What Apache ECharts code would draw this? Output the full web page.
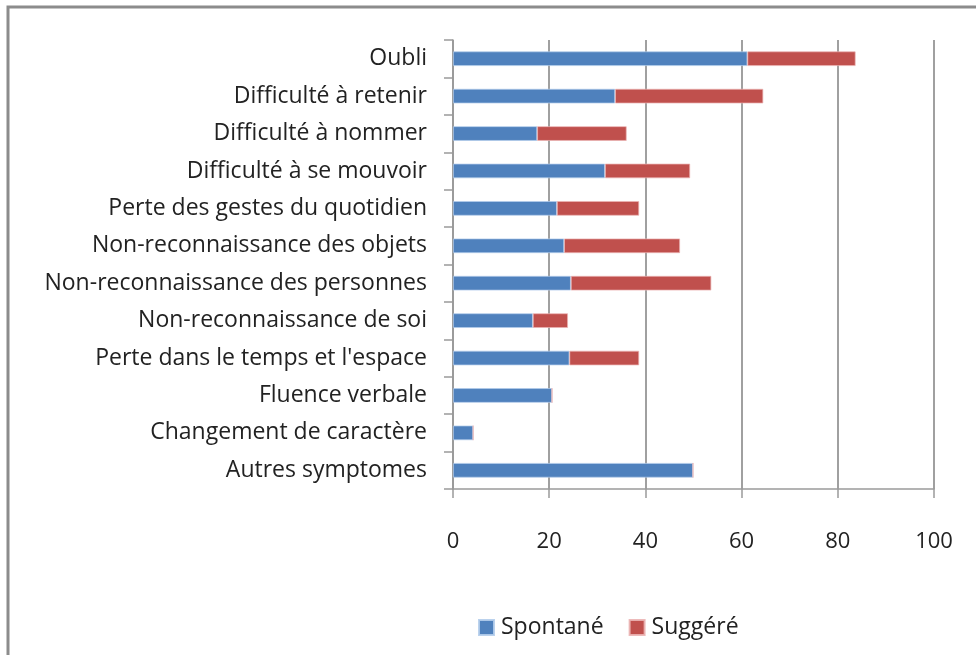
<!DOCTYPE html>
<html>
<head>
<meta charset="utf-8">
<script src="https://cdn.jsdelivr.net/npm/echarts@6/dist/echarts.min.js"></script>
<style>
  html, body { margin: 0; padding: 0; background: #fff; }
  #mychart1 { width: 976px; height: 655px; }
</style>
</head>
<body>
<div id="mychart1"></div>
<script>
// catégories (de haut en bas)
const categories = [
  "Oubli",
  "Difficulté à retenir",
  "Difficulté à nommer",
  "Difficulté à se mouvoir",
  "Perte des gestes du quotidien",
  "Non-reconnaissance des objets",
  "Non-reconnaissance des personnes",
  "Non-reconnaissance de soi",
  "Perte dans le temps et l'espace",
  "Fluence verbale",
  "Changement de caractère",
  "Autres symptomes"
];
const spontane = [61.2, 33.7, 17.5, 31.6, 21.6, 23.1, 24.5, 16.6, 24.2, 20.6, 4.2, 49.9];
const suggere = [22.5, 30.8, 18.6, 17.7, 17.1, 24.1, 29.2, 7.3, 14.5, 0, 0, 0];
const xTicks = [0, 20, 40, 60, 80, 100];

const font = "'Open Sans', sans-serif";
const myChart = echarts.init(document.getElementById("mychart1"));
const option = {
  animation: false,
  textStyle: { fontFamily: font },
  // cadre gris en haut / à gauche
  graphic: [{
    type: "rect",
    shape: { x: 8, y: 7, width: 1200, height: 1200 },
    style: { fill: "none", stroke: "#8c8c8c", lineWidth: 3 },
    silent: true
  }],
  grid: { left: 453, top: 40, right: 42, bottom: 166 },
  legend: {
    data: ["Spontané", "Suggéré"],
    left: 473,
    top: 611,
    itemWidth: 15,
    itemHeight: 15,
    itemGap: 25,
    icon: "rect",
    textStyle: { fontSize: 23, color: "#222", fontFamily: font, padding: [0, 0, 0, 2] }
  },
  xAxis: {
    type: "value",
    min: xTicks[0],
    max: xTicks[xTicks.length - 1],
    interval: 20,
    axisLine: { show: true, lineStyle: { color: "#9a9a9a", width: 1.5 } },
    axisTick: { show: true, length: 9, lineStyle: { color: "#9a9a9a", width: 1.5 } },
    axisLabel: { fontSize: 22, color: "#222", margin: 42, fontFamily: font },
    splitLine: { show: true, lineStyle: { color: "#a0a0a0", width: 2 } }
  },
  yAxis: {
    type: "category",
    data: categories,
    inverse: true,
    axisLine: { show: true, lineStyle: { color: "#9a9a9a", width: 1.5 } },
    axisTick: { show: true, length: 9, lineStyle: { color: "#9a9a9a", width: 1.5 } },
    axisLabel: { fontSize: 23, color: "#222", margin: 26, fontFamily: font }
  },
  series: [
    {
      name: "Spontané",
      type: "bar",
      stack: "total",
      barWidth: "39%",
      data: spontane,
      itemStyle: { color: "#4f81bd", borderColor: "rgba(180,205,235,0.9)", borderWidth: 0.8 }
    },
    {
      name: "Suggéré",
      type: "bar",
      stack: "total",
      barWidth: "39%",
      data: suggere,
      itemStyle: { color: "#c0504d", borderColor: "rgba(235,180,180,0.9)", borderWidth: 0.8 }
    }
  ]
};
myChart.setOption(option);
window.addEventListener("resize", () => {
  myChart.resize();
});
</script>
</body>
</html>
